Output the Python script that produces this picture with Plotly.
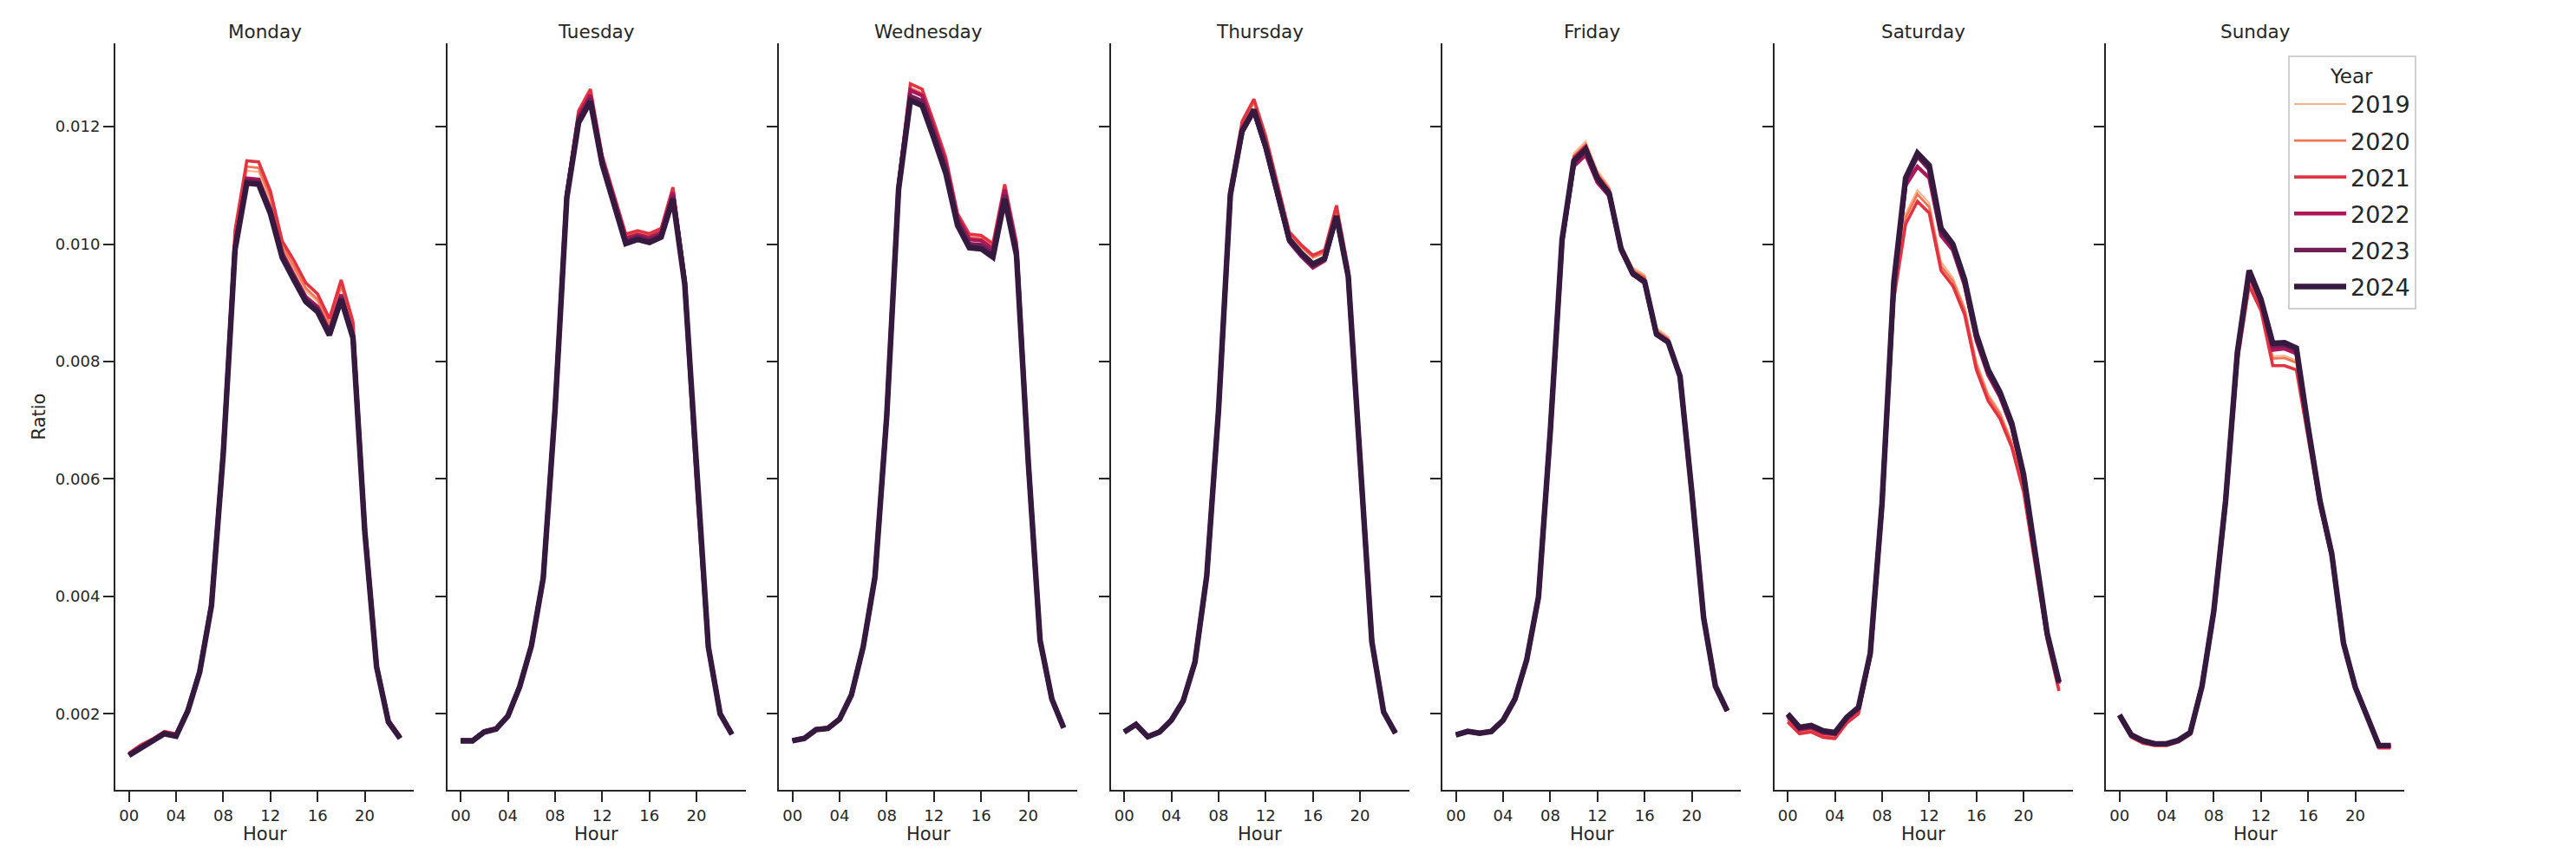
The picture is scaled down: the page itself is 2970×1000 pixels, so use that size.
import plotly.graph_objects as go

# ---------------- data ----------------
HOURS = list(range(24))
TICK_VALS = [0, 4, 8, 12, 16, 20]
TICK_TEXT = ["00", "04", "08", "12", "16", "20"]
YEARS = [2019, 2020, 2021, 2022, 2023, 2024]
DAYS = ["Monday", "Tuesday", "Wednesday", "Thursday", "Friday", "Saturday", "Sunday"]
Y_TICKS = [0.002, 0.004, 0.006, 0.008, 0.010, 0.012]

MONDAY = {
    2019: [0.00132,0.00145,0.00156,0.00169,0.00165,0.00207,0.00274,0.00388,0.00650,0.01010,0.01125,0.01123,0.01073,0.00992,0.00957,0.00920,0.00902,0.00862,0.00926,0.00857,0.00518,0.00283,0.00189,0.00161],
    2020: [0.00132,0.00146,0.00156,0.00169,0.00165,0.00207,0.00274,0.00388,0.00652,0.01015,0.01132,0.01130,0.01080,0.00997,0.00962,0.00925,0.00906,0.00865,0.00930,0.00860,0.00519,0.00284,0.00189,0.00161],
    2021: [0.00133,0.00147,0.00157,0.00170,0.00166,0.00208,0.00275,0.00390,0.00655,0.01024,0.01142,0.01140,0.01090,0.01005,0.00972,0.00934,0.00915,0.00873,0.00939,0.00868,0.00522,0.00285,0.00190,0.00162],
    2022: [0.00131,0.00144,0.00155,0.00168,0.00164,0.00207,0.00273,0.00387,0.00648,0.00998,0.01112,0.01110,0.01060,0.00985,0.00947,0.00910,0.00893,0.00853,0.00914,0.00846,0.00514,0.00282,0.00188,0.00160],
    2023: [0.00130,0.00143,0.00154,0.00167,0.00163,0.00206,0.00272,0.00386,0.00646,0.00995,0.01108,0.01106,0.01056,0.00981,0.00943,0.00906,0.00889,0.00849,0.00910,0.00843,0.00513,0.00281,0.00187,0.00159],
    2024: [0.00129,0.00142,0.00153,0.00166,0.00162,0.00205,0.00271,0.00384,0.00643,0.00991,0.01104,0.01102,0.01052,0.00977,0.00939,0.00902,0.00885,0.00845,0.00906,0.00840,0.00511,0.00280,0.00186,0.00158],
}
TUESDAY = {
    2019: [0.00154,0.00155,0.00170,0.00175,0.00196,0.00247,0.00317,0.00432,0.00720,0.01086,0.01220,0.01256,0.01146,0.01078,0.01012,0.01018,0.01013,0.01022,0.01090,0.00940,0.00607,0.00315,0.00200,0.00165],
    2020: [0.00155,0.00155,0.00170,0.00175,0.00197,0.00247,0.00317,0.00432,0.00721,0.01088,0.01222,0.01259,0.01148,0.01080,0.01014,0.01020,0.01015,0.01024,0.01092,0.00942,0.00607,0.00315,0.00201,0.00166],
    2021: [0.00155,0.00155,0.00171,0.00176,0.00197,0.00247,0.00317,0.00433,0.00722,0.01090,0.01227,0.01264,0.01151,0.01084,0.01017,0.01023,0.01018,0.01027,0.01097,0.00945,0.00608,0.00316,0.00201,0.00166],
    2022: [0.00155,0.00155,0.00170,0.00175,0.00197,0.00247,0.00317,0.00432,0.00720,0.01085,0.01218,0.01254,0.01145,0.01075,0.01010,0.01016,0.01011,0.01020,0.01088,0.00939,0.00607,0.00315,0.00201,0.00166],
    2023: [0.00154,0.00154,0.00169,0.00174,0.00196,0.00246,0.00316,0.00431,0.00718,0.01082,0.01212,0.01248,0.01140,0.01070,0.01005,0.01012,0.01007,0.01015,0.01082,0.00935,0.00606,0.00314,0.00200,0.00165],
    2024: [0.00154,0.00154,0.00169,0.00174,0.00196,0.00246,0.00316,0.00431,0.00717,0.01079,0.01207,0.01243,0.01136,0.01066,0.01001,0.01008,0.01003,0.01012,0.01077,0.00932,0.00605,0.00314,0.00200,0.00165],
}
WEDNESDAY = {
    2019: [0.00155,0.00159,0.00174,0.00176,0.00192,0.00233,0.00315,0.00434,0.00711,0.01100,0.01262,0.01254,0.01198,0.01140,0.01046,0.01010,0.01008,0.00995,0.01094,0.00997,0.00631,0.00326,0.00226,0.00177],
    2020: [0.00155,0.00159,0.00174,0.00176,0.00192,0.00233,0.00315,0.00434,0.00711,0.01102,0.01266,0.01257,0.01200,0.01142,0.01048,0.01012,0.01010,0.00996,0.01096,0.00998,0.00631,0.00326,0.00226,0.00177],
    2021: [0.00155,0.00159,0.00174,0.00176,0.00192,0.00233,0.00315,0.00435,0.00712,0.01105,0.01273,0.01264,0.01207,0.01148,0.01052,0.01017,0.01015,0.01001,0.01102,0.01003,0.00632,0.00327,0.00226,0.00177],
    2022: [0.00155,0.00159,0.00174,0.00176,0.00192,0.00233,0.00315,0.00434,0.00710,0.01100,0.01262,0.01253,0.01196,0.01137,0.01045,0.01008,0.01006,0.00992,0.01093,0.00995,0.00630,0.00326,0.00226,0.00177],
    2023: [0.00154,0.00158,0.00173,0.00175,0.00191,0.00232,0.00314,0.00433,0.00709,0.01096,0.01252,0.01243,0.01187,0.01128,0.01038,0.01000,0.00998,0.00984,0.01084,0.00987,0.00629,0.00325,0.00225,0.00176],
    2024: [0.00154,0.00158,0.00173,0.00175,0.00191,0.00232,0.00314,0.00433,0.00708,0.01093,0.01245,0.01236,0.01180,0.01121,0.01032,0.00994,0.00992,0.00978,0.01077,0.00981,0.00628,0.00325,0.00225,0.00176],
}
THURSDAY = {
    2019: [0.00170,0.00183,0.00162,0.00170,0.00190,0.00223,0.00289,0.00436,0.00719,0.01090,0.01202,0.01240,0.01177,0.01094,0.01016,0.00994,0.00976,0.00984,0.01057,0.00952,0.00630,0.00324,0.00204,0.00168],
    2020: [0.00170,0.00183,0.00162,0.00170,0.00190,0.00223,0.00289,0.00436,0.00719,0.01092,0.01205,0.01242,0.01180,0.01097,0.01018,0.00996,0.00978,0.00986,0.01060,0.00954,0.00630,0.00324,0.00204,0.00168],
    2021: [0.00170,0.00184,0.00162,0.00170,0.00190,0.00223,0.00289,0.00437,0.00720,0.01095,0.01209,0.01247,0.01184,0.01100,0.01021,0.00999,0.00981,0.00990,0.01066,0.00958,0.00631,0.00324,0.00204,0.00168],
    2022: [0.00169,0.00182,0.00161,0.00169,0.00189,0.00222,0.00288,0.00435,0.00716,0.01082,0.01190,0.01225,0.01163,0.01080,0.01004,0.00980,0.00960,0.00972,0.01045,0.00943,0.00627,0.00323,0.00203,0.00167],
    2023: [0.00169,0.00182,0.00161,0.00169,0.00189,0.00222,0.00288,0.00435,0.00717,0.01083,0.01191,0.01227,0.01164,0.01082,0.01006,0.00982,0.00963,0.00974,0.01047,0.00944,0.00628,0.00323,0.00203,0.00167],
    2024: [0.00169,0.00182,0.00161,0.00169,0.00189,0.00222,0.00288,0.00435,0.00717,0.01084,0.01193,0.01229,0.01166,0.01084,0.01008,0.00985,0.00966,0.00976,0.01048,0.00945,0.00628,0.00323,0.00203,0.00167],
}
FRIDAY = {
    2019: [0.00164,0.00170,0.00167,0.00170,0.00189,0.00225,0.00292,0.00400,0.00683,0.01012,0.01155,0.01175,0.01125,0.01098,0.01000,0.00960,0.00948,0.00857,0.00842,0.00780,0.00580,0.00365,0.00247,0.00205],
    2020: [0.00164,0.00170,0.00167,0.00170,0.00189,0.00225,0.00292,0.00400,0.00682,0.01011,0.01150,0.01170,0.01120,0.01094,0.00997,0.00956,0.00944,0.00853,0.00839,0.00778,0.00579,0.00365,0.00247,0.00205],
    2021: [0.00164,0.00170,0.00167,0.00170,0.00189,0.00225,0.00292,0.00399,0.00682,0.01010,0.01148,0.01167,0.01117,0.01091,0.00995,0.00953,0.00940,0.00850,0.00836,0.00777,0.00579,0.00364,0.00247,0.00205],
    2022: [0.00164,0.00170,0.00167,0.00170,0.00189,0.00225,0.00292,0.00399,0.00680,0.01003,0.01133,0.01152,0.01105,0.01082,0.00989,0.00948,0.00934,0.00845,0.00832,0.00774,0.00578,0.00364,0.00247,0.00205],
    2023: [0.00164,0.00170,0.00167,0.00170,0.00189,0.00225,0.00292,0.00399,0.00681,0.01006,0.01139,0.01159,0.01110,0.01085,0.00991,0.00949,0.00935,0.00846,0.00833,0.00775,0.00578,0.00364,0.00247,0.00205],
    2024: [0.00164,0.00170,0.00167,0.00170,0.00189,0.00225,0.00292,0.00399,0.00681,0.01008,0.01142,0.01162,0.01112,0.01086,0.00992,0.00950,0.00936,0.00847,0.00833,0.00775,0.00578,0.00364,0.00247,0.00205],
}
SATURDAY = {
    2019: [0.00191,0.00170,0.00173,0.00164,0.00162,0.00188,0.00204,0.00299,0.00550,0.00915,0.01052,0.01092,0.01070,0.00970,0.00943,0.00893,0.00800,0.00745,0.00714,0.00665,0.00586,0.00459,0.00330,0.00244],
    2020: [0.00190,0.00169,0.00172,0.00163,0.00161,0.00187,0.00203,0.00298,0.00548,0.00912,0.01045,0.01085,0.01063,0.00963,0.00937,0.00888,0.00795,0.00741,0.00710,0.00661,0.00583,0.00457,0.00329,0.00243],
    2021: [0.00186,0.00166,0.00169,0.00160,0.00158,0.00184,0.00200,0.00296,0.00544,0.00906,0.01034,0.01073,0.01053,0.00955,0.00929,0.00880,0.00786,0.00733,0.00703,0.00654,0.00578,0.00454,0.00326,0.00239],
    2022: [0.00196,0.00173,0.00176,0.00167,0.00165,0.00191,0.00208,0.00300,0.00555,0.00928,0.01100,0.01132,0.01113,0.01015,0.00990,0.00930,0.00836,0.00777,0.00740,0.00688,0.00602,0.00465,0.00334,0.00251],
    2023: [0.00199,0.00176,0.00179,0.00170,0.00167,0.00193,0.00210,0.00302,0.00558,0.00933,0.01110,0.01150,0.01128,0.01022,0.00996,0.00936,0.00842,0.00782,0.00745,0.00692,0.00606,0.00468,0.00336,0.00253],
    2024: [0.00200,0.00177,0.00180,0.00171,0.00168,0.00194,0.00211,0.00303,0.00559,0.00936,0.01113,0.01155,0.01134,0.01027,0.01000,0.00940,0.00846,0.00786,0.00748,0.00695,0.00608,0.00469,0.00337,0.00254],
}
SUNDAY = {
    2019: [0.00196,0.00162,0.00152,0.00147,0.00147,0.00153,0.00166,0.00245,0.00372,0.00559,0.00808,0.00940,0.00895,0.00809,0.00810,0.00802,0.00679,0.00557,0.00470,0.00318,0.00244,0.00197,0.00144,0.00144],
    2020: [0.00196,0.00162,0.00152,0.00147,0.00147,0.00153,0.00166,0.00245,0.00372,0.00558,0.00806,0.00938,0.00893,0.00805,0.00806,0.00798,0.00677,0.00556,0.00469,0.00318,0.00244,0.00197,0.00144,0.00144],
    2021: [0.00195,0.00160,0.00150,0.00146,0.00146,0.00152,0.00165,0.00244,0.00370,0.00555,0.00800,0.00929,0.00887,0.00793,0.00793,0.00786,0.00670,0.00552,0.00466,0.00316,0.00243,0.00196,0.00142,0.00142],
    2022: [0.00197,0.00163,0.00153,0.00148,0.00148,0.00154,0.00167,0.00246,0.00374,0.00561,0.00812,0.00948,0.00900,0.00820,0.00822,0.00814,0.00684,0.00560,0.00471,0.00319,0.00245,0.00198,0.00145,0.00145],
    2023: [0.00198,0.00164,0.00154,0.00149,0.00149,0.00155,0.00168,0.00247,0.00375,0.00562,0.00815,0.00953,0.00904,0.00827,0.00828,0.00820,0.00687,0.00562,0.00472,0.00320,0.00245,0.00198,0.00146,0.00146],
    2024: [0.00198,0.00164,0.00154,0.00149,0.00149,0.00155,0.00168,0.00247,0.00375,0.00563,0.00816,0.00955,0.00906,0.00831,0.00832,0.00823,0.00688,0.00563,0.00473,0.00320,0.00245,0.00198,0.00146,0.00146],
}
DAY_DATA = [MONDAY, TUESDAY, WEDNESDAY, THURSDAY, FRIDAY, SATURDAY, SUNDAY]

# ---------------- styling ----------------
COLORS = {2019: "#f6b48f", 2020: "#f37651", 2021: "#e13342",
          2022: "#ad1759", 2023: "#701f57", 2024: "#35193e"}
WIDTHS = {2019: 2.0, 2020: 2.8, 2021: 3.6, 2022: 4.5, 2023: 5.4, 2024: 6.4}
INK = "#262626"
FONT = "DejaVu Sans"
W, H = 2970, 1000

PANEL_LEFT = 133
PANEL_W = 344
PANEL_STEP = 382.5
Y_TOP = 50
Y_BOT = 911
Y_RANGE = [0.000705, 0.01342]
X_RANGE = [-1.15, 24.15]

fig = go.Figure()
layout = dict(
    width=W, height=H,
    margin=dict(l=0, r=0, t=0, b=0),
    paper_bgcolor="white", plot_bgcolor="white",
    font=dict(family=FONT, color=INK, size=18),
    showlegend=True,
    annotations=[],
)

for i, (day, data) in enumerate(zip(DAYS, DAY_DATA)):
    n = "" if i == 0 else str(i + 1)
    x0 = (PANEL_LEFT + PANEL_STEP * i) / W
    x1 = (PANEL_LEFT + PANEL_STEP * i + PANEL_W) / W
    for yr in YEARS:
        fig.add_trace(go.Scatter(
            x=HOURS, y=data[yr], mode="lines", name=str(yr),
            legendgroup=str(yr), showlegend=(i == 0),
            line=dict(color=COLORS[yr], width=WIDTHS[yr]),
            xaxis="x" + n, yaxis="y" + n,
            hovertemplate=day + " %{x}h: %{y:.5f}<extra>" + str(yr) + "</extra>",
        ))
    layout["xaxis" + n] = dict(
        domain=[x0, x1], anchor="y" + n, range=X_RANGE,
        tickmode="array", tickvals=TICK_VALS, ticktext=TICK_TEXT,
        showline=True, linecolor=INK, linewidth=2,
        ticks="outside", ticklen=12, tickwidth=2, tickcolor=INK,
        showgrid=False, zeroline=False,
        tickfont=dict(size=18, color=INK, family=FONT),
    )
    layout["yaxis" + n] = dict(
        domain=[1 - Y_BOT / H, 1 - Y_TOP / H], anchor="x" + n, range=Y_RANGE,
        tickmode="array", tickvals=Y_TICKS, tickformat=".3f",
        showticklabels=(i == 0),
        showline=True, linecolor=INK, linewidth=2,
        ticks="outside", ticklen=12, tickwidth=2, tickcolor=INK,
        showgrid=False, zeroline=False,
        tickfont=dict(size=18, color=INK, family=FONT),
    )
    cx = (x0 + x1) / 2
    layout["annotations"].append(dict(
        text=day, x=cx, y=1 - 36 / H, xref="paper", yref="paper",
        xanchor="center", yanchor="middle", showarrow=False,
        font=dict(size=21.5, color=INK, family=FONT)))
    layout["annotations"].append(dict(
        text="Hour", x=cx, y=1 - 962 / H, xref="paper", yref="paper",
        xanchor="center", yanchor="middle", showarrow=False,
        font=dict(size=21, color=INK, family=FONT)))

layout["annotations"].append(dict(
    text="Ratio", x=45 / W, y=1 - ((Y_TOP + Y_BOT) / 2) / H,
    xref="paper", yref="paper", xanchor="center", yanchor="middle",
    textangle=-90, showarrow=False,
    font=dict(size=21, color=INK, family=FONT)))

layout["legend"] = dict(
    x=2638 / W, y=1 - 64 / H, xanchor="left", yanchor="top",
    bgcolor="white", bordercolor="#d0d0d0", borderwidth=2,
    font=dict(size=27, color=INK, family=FONT),
    title=dict(text="Year", side="top center", font=dict(size=23, color=INK, family=FONT)),
    itemwidth=60, tracegroupgap=4,
)

fig.update_layout(**layout)
fig.write_html("out.html")
